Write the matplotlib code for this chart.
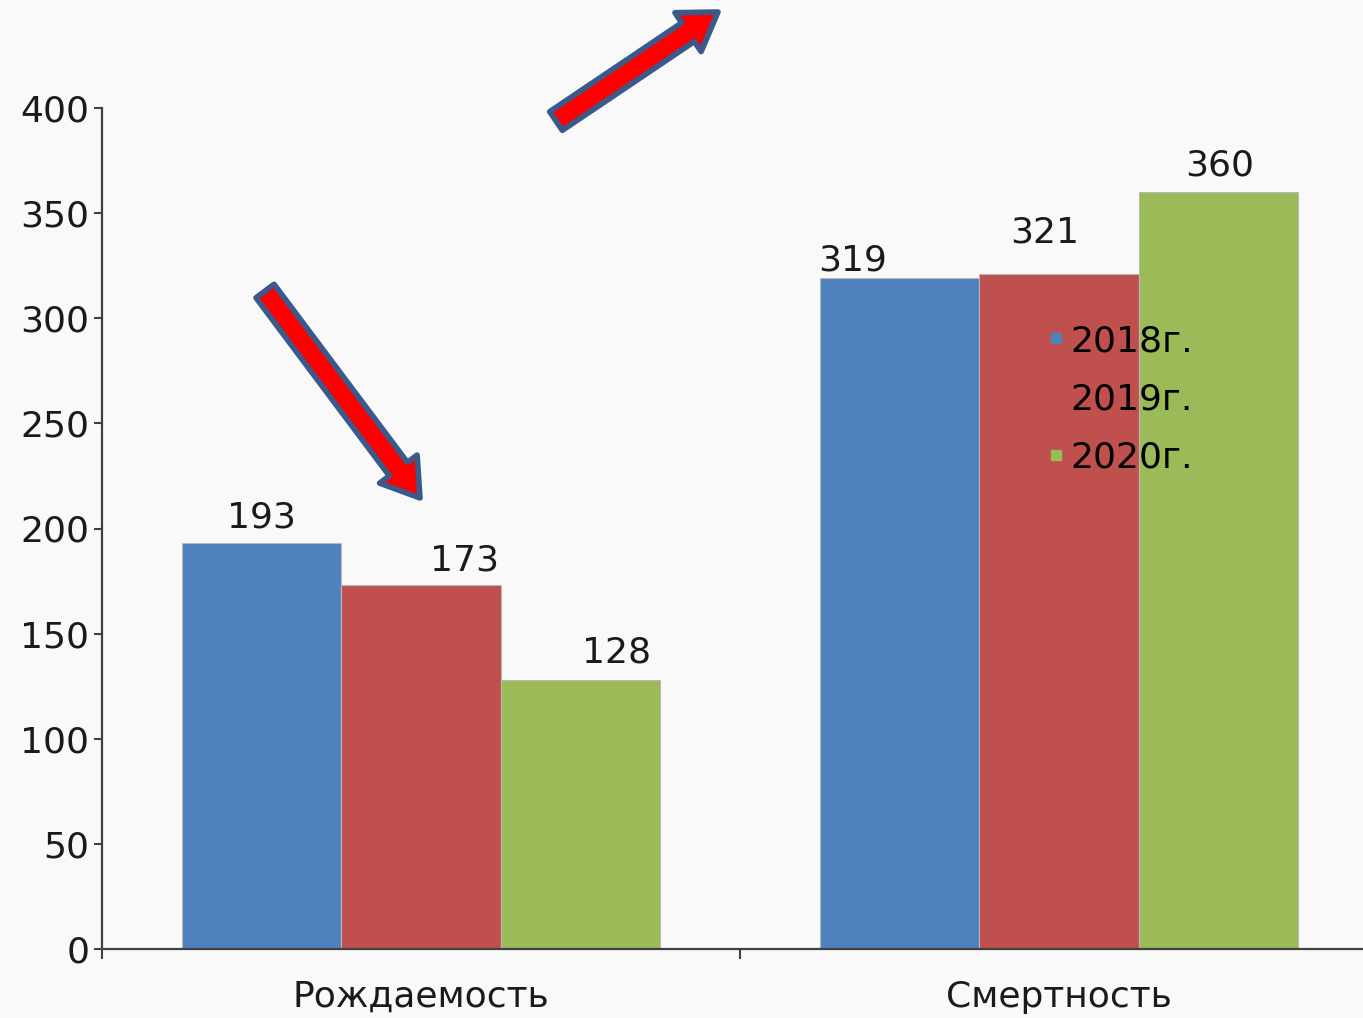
import matplotlib.pyplot as plt
from matplotlib.lines import Line2D

# Data
categories = ["Рождаемость", "Смертность"]
years = ["2018г.", "2019г.", "2020г."]
values_2018 = [193, 319]
values_2019 = [173, 321]
values_2020 = [128, 360]
colors = ["#4f81bd", "#c0504d", "#9bbb59"]

# Label offsets in pixels (dx, dy) per series / category, to mimic the original placement
label_offsets = [
    [(0, 26), (-47, 18)],
    [(43, 25), (-14, 42)],
    [(36, 27), (1, 27)],
]

plt.rcParams["font.family"] = ["DejaVu Sans"]
fs = 26

fig = plt.figure(figsize=(13.63, 10.18), dpi=100)
fig.patch.set_facecolor("#f9f9f9")
ax = fig.add_axes([102 / 1363, 69 / 1018, 1276 / 1363, 841 / 1018])
ax.set_facecolor("#f9f9f9")

series = [values_2018, values_2019, values_2020]
width = 0.25
x = list(range(len(categories)))

for i, vals in enumerate(series):
    pos = [xi + (i - 1) * width for xi in x]
    bars = ax.bar(pos, vals, width=width, color=colors[i], edgecolor="#b8b8b8", linewidth=0.8, zorder=2)
    for j, bar in enumerate(bars):
        dx, dy = label_offsets[i][j]
        ax.annotate(
            str(vals[j]),
            (bar.get_x() + bar.get_width() / 2, bar.get_height()),
            xytext=(dx, dy),
            textcoords="offset pixels",
            ha="center",
            va="center",
            fontsize=fs,
            color="#1a1a1a",
        )

ax.set_xlim(-0.5, 1.5)
ax.set_ylim(0, 400)
ax.set_yticks(range(0, 401, 50))
ax.set_xticks([-0.5, 0.5, 1.5])
ax.set_xticklabels(["", "", ""])
ax.set_xticks(x, minor=True)
ax.set_xticklabels(categories, minor=True)
ax.tick_params(axis="x", which="minor", length=0, pad=22, labelsize=fs, labelcolor="#1a1a1a")
ax.tick_params(axis="x", which="major", length=7, width=1.5, color="#404040", direction="out")
ax.tick_params(axis="y", length=6, width=1.5, color="#404040", pad=3, labelsize=fs, labelcolor="#1a1a1a")

for side in ["top", "right"]:
    ax.spines[side].set_visible(False)
for side in ["left", "bottom"]:
    ax.spines[side].set_color("#404040")
    ax.spines[side].set_linewidth(1.6)

# Legend without frame, overlapping the bars
handles = [Line2D([], [], marker="s", linestyle="none", markersize=7, color=c) for c in colors]
fig.legend(
    handles,
    years,
    loc="upper left",
    bbox_to_anchor=(1032 / 1363, 1 - 306 / 1018),
    frameon=False,
    fontsize=fs,
    handlelength=0.35,
    handletextpad=0.2,
    labelspacing=0.67,
    borderpad=0,
)

# Decorative red arrows
for tail, tip in [((556, 1018 - 121), (718, 1018 - 12)), ((265, 1018 - 291), (420, 1018 - 498))]:
    ax.annotate(
        "",
        xy=tip,
        xycoords="figure pixels",
        xytext=tail,
        textcoords="figure pixels",
        arrowprops=dict(
            arrowstyle="simple,head_length=2.0,head_width=2.6,tail_width=1.25",
            mutation_scale=13,
            facecolor="#ff0000",
            edgecolor="#3a5a8a",
            linewidth=4,
            shrinkA=0,
            shrinkB=0,
        ),
        annotation_clip=False,
    )

plt.savefig("out.png", dpi=100, facecolor=fig.get_facecolor())
